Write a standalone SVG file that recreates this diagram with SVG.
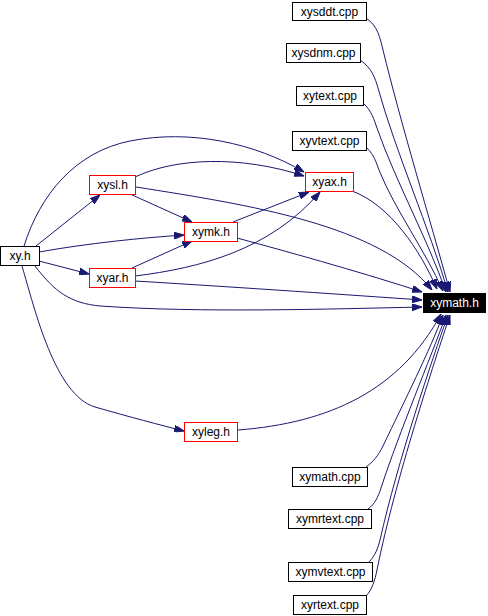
<svg xmlns="http://www.w3.org/2000/svg" width="488" height="616" viewBox="0 0 488 616">
<style>
.n rect{fill:#fff;stroke:#000;stroke-width:1}
.n.r rect{stroke:#f00}
.n text{font-family:"Liberation Sans",Arial,sans-serif;font-size:12px;text-anchor:middle;fill:#000}
.n.k rect{fill:#000;stroke:#000}
.n.k text{fill:#fff}
.e path{fill:none;stroke:#191970;stroke-width:1;marker-end:url(#ah)}
</style>
<defs>
<marker id="ah" viewBox="0 0 10 7" refX="10" refY="3.5" markerWidth="10" markerHeight="7" markerUnits="userSpaceOnUse" orient="auto">
<path d="M0,0 L10,3.5 L0,7 z" fill="#191970" stroke="#191970"/>
</marker>
</defs>
<g id="edges" class="e">
<path d="M366,18 C378,26 380,38 383,50 C400,120 430,220 450,292"/>
<path d="M360,60 C372,68 375,78 378,88 C395,150 430,230 448,292"/>
<path d="M363,103 C372,111 374,120 377,128 C395,180 428,240 446,292"/>
<path d="M367,148 C374,155 376,162 379,170 C395,210 425,250 443,291"/>
<path d="M352,191 C390,205 420,250 437,289"/>
<path d="M136,187 C250,205 380,225 432,290"/>
<path d="M237,238 C300,255 370,275 422,292"/>
<path d="M135,281 C250,288 350,295 422,300"/>
<path d="M35,266 C55,292 70,303 100,306 C200,313 330,309 422,307"/>
<path d="M36,246 L100,195"/>
<path d="M39,261 L89,274"/>
<path d="M39,252 C90,243 140,238 184,235"/>
<path d="M24,246 C40,195 75,152 130,141 C190,129 255,143 304,172"/>
<path d="M135,177 C175,158 240,155 304,176"/>
<path d="M130,194 L192,222"/>
<path d="M132,268 L192,241"/>
<path d="M233,222 L309,192"/>
<path d="M135,276 C200,268 270,250 320,192"/>
<path d="M22,266 C35,310 55,395 95,407 C130,417 160,425 184,431"/>
<path d="M238,430 C330,423 400,390 441,314"/>
<path d="M366,467 C373,462 378,456 383,446 C405,400 430,350 443,315"/>
<path d="M368,509 C375,504 378,497 381,488 C400,430 430,360 446,315"/>
<path d="M369,562 C375,556 378,548 380,540 C398,460 432,360 448,315"/>
<path d="M366,596 C372,590 375,580 377,570 C395,480 435,360 450,315"/>
</g>
<g id="xysddt" class="n"><rect x="292.5" y="2.5" width="74" height="18"/><text x="329.5" y="16">xysddt.cpp</text></g>
<g id="xysdnm" class="n"><rect x="286.5" y="43.5" width="74" height="19"/><text x="323.5" y="57">xysdnm.cpp</text></g>
<g id="xytext" class="n"><rect x="296.5" y="86.5" width="67" height="19"/><text x="330" y="100">xytext.cpp</text></g>
<g id="xyvtext" class="n"><rect x="292.5" y="131.5" width="74" height="19"/><text x="329.5" y="145">xyvtext.cpp</text></g>
<g id="xyax" class="n r"><rect x="305.5" y="172.5" width="48" height="19"/><text x="329.5" y="186">xyax.h</text></g>
<g id="xysl" class="n r"><rect x="89.5" y="175.5" width="46" height="19"/><text x="112.5" y="189">xysl.h</text></g>
<g id="xymk" class="n r"><rect x="184.5" y="222.5" width="53" height="19"/><text x="211" y="236">xymk.h</text></g>
<g id="xy" class="n"><rect x="0.5" y="246.5" width="39" height="19"/><text x="20" y="260">xy.h</text></g>
<g id="xyar" class="n r"><rect x="89.5" y="268.5" width="46" height="19"/><text x="112.5" y="282">xyar.h</text></g>
<g id="xymath_h" class="n k"><rect x="423.5" y="293.5" width="62" height="19"/><text x="454.5" y="307">xymath.h</text></g>
<g id="xyleg" class="n r"><rect x="184.5" y="422.5" width="53" height="19"/><text x="211" y="436">xyleg.h</text></g>
<g id="xymath_cpp" class="n"><rect x="292.5" y="467.5" width="75" height="19"/><text x="330" y="481">xymath.cpp</text></g>
<g id="xymrtext" class="n"><rect x="288.5" y="509.5" width="83" height="19"/><text x="330" y="523">xymrtext.cpp</text></g>
<g id="xymvtext" class="n"><rect x="288.5" y="562.5" width="84" height="19"/><text x="330.5" y="576">xymvtext.cpp</text></g>
<g id="xyrtext" class="n"><rect x="293.5" y="595.5" width="73" height="19"/><text x="330" y="609">xyrtext.cpp</text></g>
</svg>
